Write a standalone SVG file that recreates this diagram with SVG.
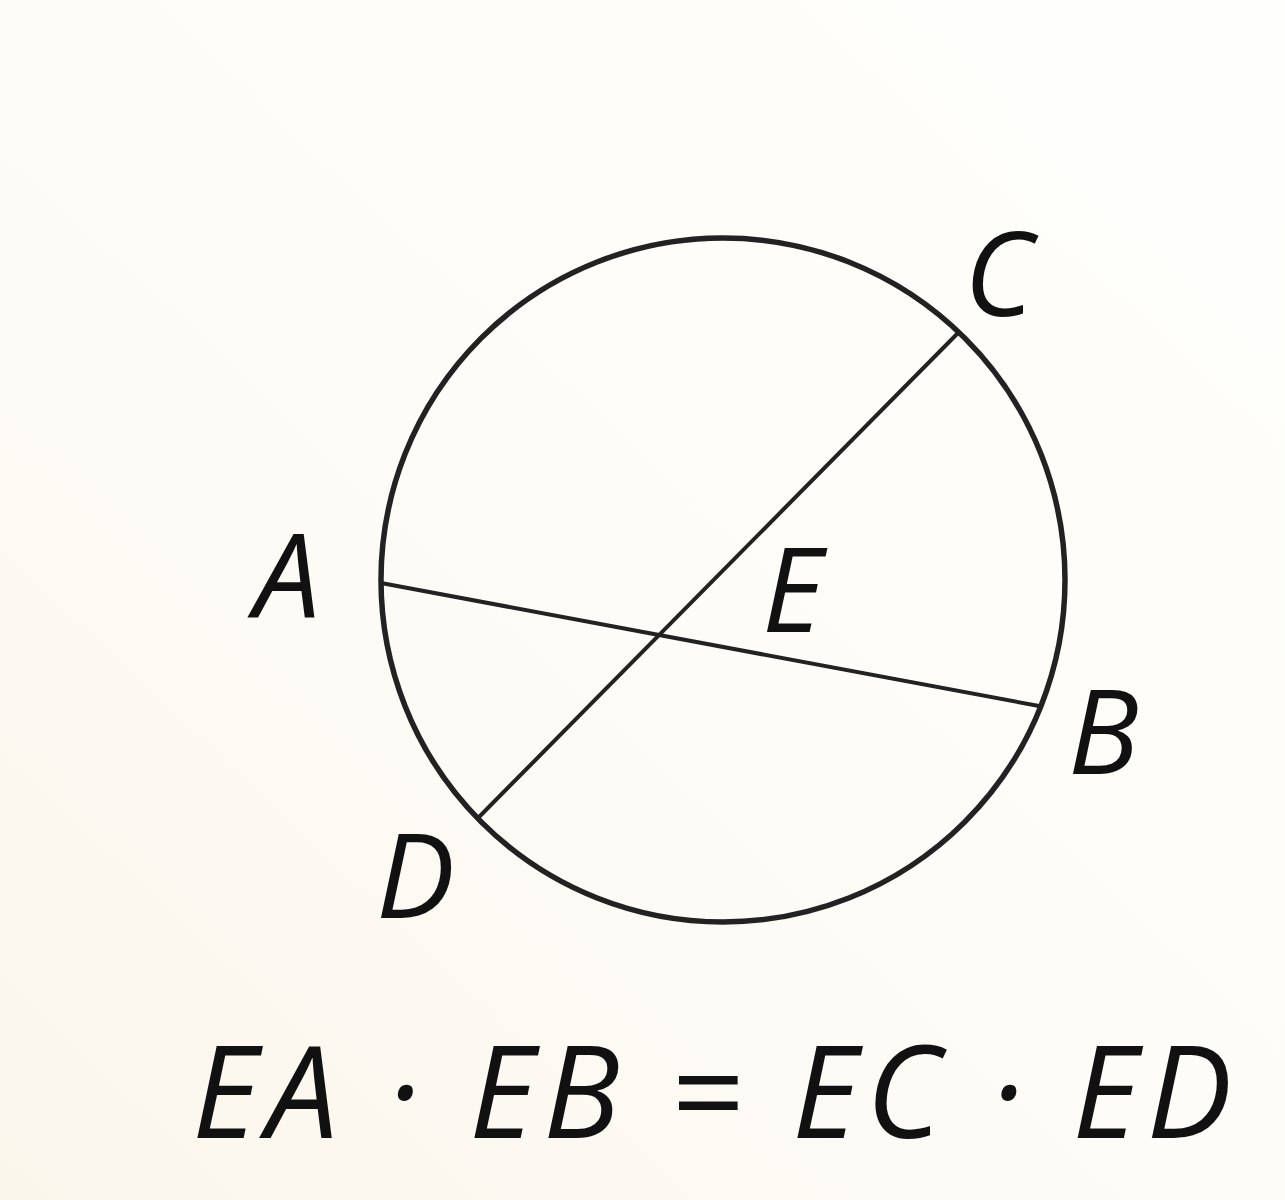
<svg xmlns="http://www.w3.org/2000/svg" width="1285" height="1200" viewBox="0 0 1285 1200">
<defs>
<linearGradient id="bg" x1="1" y1="0" x2="0" y2="1">
<stop offset="0" stop-color="#fefefc"/>
<stop offset="0.5" stop-color="#fdfcf8"/>
<stop offset="1" stop-color="#fbf6ec"/>
</linearGradient>
<style>
.lbl{font-family:"Open Sans","Liberation Sans",sans-serif;font-style:italic;font-weight:500;font-size:118px;fill:#111}
.eq{font-family:"Open Sans","Liberation Sans",sans-serif;font-style:italic;font-weight:500;font-size:128px;fill:#111}
.ln{stroke:#222;fill:none;stroke-linecap:round}
</style>
</defs>
<rect width="1285" height="1200" fill="url(#bg)"/>
<g id="circle"><circle class="ln" cx="723" cy="580" r="342" stroke-width="5.5"/></g>
<g id="connectors">
<line class="ln" x1="381" y1="583" x2="1039" y2="706" stroke-width="4"/>
<line class="ln" x1="957" y1="334" x2="479" y2="817" stroke-width="4"/>
</g>
<g id="C"><text class="lbl" x="964" y="316">C</text></g>
<g id="A"><text class="lbl" x="254" y="618">A</text></g>
<g id="E"><text class="lbl" x="762" y="632">E</text></g>
<g id="B"><text class="lbl" x="1068" y="774">B</text></g>
<g id="D"><text class="lbl" x="376" y="918">D</text></g>
<g id="equation"><text class="eq" x="192" y="1138" textLength="1040" lengthAdjust="spacing">EA · EB = EC · ED</text></g>
</svg>
